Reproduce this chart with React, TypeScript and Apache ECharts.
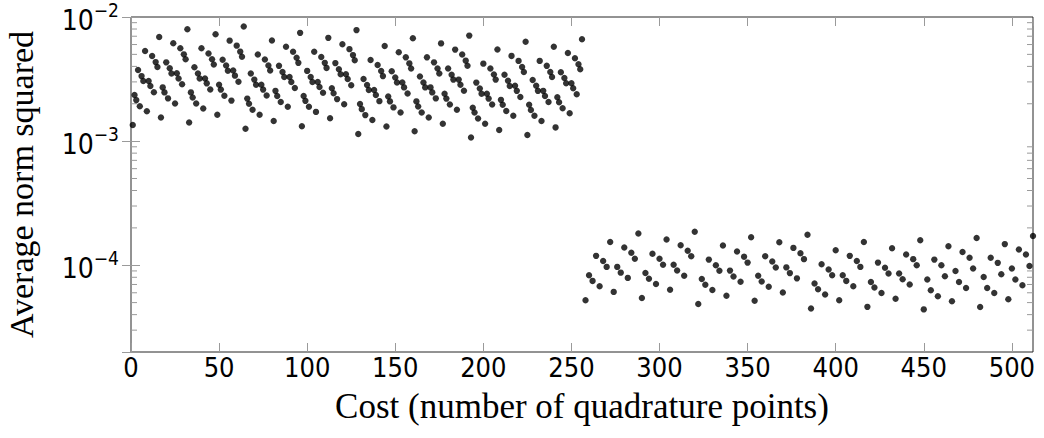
import React, { useEffect, useRef } from "react";
import * as echarts from "echarts";

// Costs: upper group at every cost 1..256, lower group at every even cost 258..512
const upperCostStart = 1;
const upperCostStep = 1;
const lowerCostStart = 258;
const lowerCostStep = 2;

// Average norm squared, costs 1..64
const upperCost1to64 = [
  1.35e-3, 2.35e-3, 2.14e-3, 3.74e-3, 1.91e-3, 3.34e-3, 3.05e-3, 5.32e-3, 1.74e-3, 3.05e-3, 2.78e-3, 4.85e-3, 2.48e-3, 4.33e-3, 3.95e-3, 6.9e-3,
  1.55e-3, 2.71e-3, 2.47e-3, 4.31e-3, 2.21e-3, 3.86e-3, 3.51e-3, 6.14e-3, 2.01e-3, 3.52e-3, 3.2e-3, 5.59e-3, 2.87e-3, 5.0e-3, 4.56e-3, 7.96e-3,
  1.41e-3, 2.47e-3, 2.25e-3, 3.93e-3, 2.01e-3, 3.51e-3, 3.2e-3, 5.59e-3, 1.83e-3, 3.2e-3, 2.92e-3, 5.09e-3, 2.61e-3, 4.56e-3, 4.15e-3, 7.25e-3,
  1.63e-3, 2.85e-3, 2.6e-3, 4.53e-3, 2.32e-3, 4.06e-3, 3.69e-3, 6.45e-3, 2.12e-3, 3.7e-3, 3.37e-3, 5.88e-3, 3.01e-3, 5.26e-3, 4.79e-3, 8.37e-3,
];
// costs 65..128
const upperCost65to128 = [
  1.26e-3, 2.2e-3, 2.0e-3, 3.5e-3, 1.79e-3, 3.13e-3, 2.85e-3, 4.98e-3, 1.63e-3, 2.85e-3, 2.6e-3, 4.54e-3, 2.33e-3, 4.06e-3, 3.7e-3, 6.46e-3,
  1.45e-3, 2.54e-3, 2.31e-3, 4.04e-3, 2.07e-3, 3.61e-3, 3.29e-3, 5.75e-3, 1.89e-3, 3.29e-3, 3.0e-3, 5.24e-3, 2.68e-3, 4.69e-3, 4.27e-3, 7.45e-3,
  1.32e-3, 2.31e-3, 2.11e-3, 3.68e-3, 1.89e-3, 3.29e-3, 3.0e-3, 5.24e-3, 1.72e-3, 3.0e-3, 2.73e-3, 4.77e-3, 2.45e-3, 4.27e-3, 3.89e-3, 6.79e-3,
  1.53e-3, 2.67e-3, 2.43e-3, 4.25e-3, 2.18e-3, 3.8e-3, 3.46e-3, 6.04e-3, 1.98e-3, 3.46e-3, 3.16e-3, 5.51e-3, 2.82e-3, 4.93e-3, 4.49e-3, 7.84e-3,
];
// costs 129..192
const upperCost129to192 = [
  1.14e-3, 1.99e-3, 1.81e-3, 3.16e-3, 1.62e-3, 2.83e-3, 2.58e-3, 4.5e-3, 1.48e-3, 2.58e-3, 2.35e-3, 4.1e-3, 2.1e-3, 3.67e-3, 3.34e-3, 5.83e-3,
  1.31e-3, 2.29e-3, 2.09e-3, 3.65e-3, 1.87e-3, 3.26e-3, 2.97e-3, 5.19e-3, 1.7e-3, 2.97e-3, 2.71e-3, 4.73e-3, 2.42e-3, 4.23e-3, 3.85e-3, 6.73e-3,
  1.2e-3, 2.09e-3, 1.9e-3, 3.32e-3, 1.7e-3, 2.97e-3, 2.71e-3, 4.73e-3, 1.55e-3, 2.71e-3, 2.47e-3, 4.31e-3, 2.21e-3, 3.85e-3, 3.51e-3, 6.13e-3,
  1.38e-3, 2.41e-3, 2.2e-3, 3.84e-3, 1.97e-3, 3.43e-3, 3.13e-3, 5.46e-3, 1.79e-3, 3.13e-3, 2.85e-3, 4.98e-3, 2.55e-3, 4.45e-3, 4.05e-3, 7.08e-3,
];
// costs 193..256
const upperCost193to256 = [
  1.07e-3, 1.86e-3, 1.7e-3, 2.96e-3, 1.52e-3, 2.65e-3, 2.41e-3, 4.21e-3, 1.38e-3, 2.41e-3, 2.2e-3, 3.84e-3, 1.97e-3, 3.44e-3, 3.13e-3, 5.47e-3,
  1.23e-3, 2.15e-3, 1.96e-3, 3.42e-3, 1.75e-3, 3.06e-3, 2.78e-3, 4.86e-3, 1.6e-3, 2.79e-3, 2.54e-3, 4.43e-3, 2.27e-3, 3.96e-3, 3.61e-3, 6.31e-3,
  1.12e-3, 1.96e-3, 1.78e-3, 3.11e-3, 1.6e-3, 2.79e-3, 2.54e-3, 4.43e-3, 1.45e-3, 2.54e-3, 2.31e-3, 4.04e-3, 2.07e-3, 3.61e-3, 3.29e-3, 5.75e-3,
  1.29e-3, 2.26e-3, 2.06e-3, 3.59e-3, 1.84e-3, 3.22e-3, 2.93e-3, 5.12e-3, 1.68e-3, 2.93e-3, 2.67e-3, 4.66e-3, 2.39e-3, 4.17e-3, 3.8e-3, 6.63e-3,
];
// costs 258, 260, ..., 384
const lowerCost258to384 = [
  5.22e-5, 8.31e-5, 7.48e-5, 11.9e-5, 6.78e-5, 10.8e-5, 9.7e-5, 15.4e-5, 6.1e-5, 9.7e-5, 8.72e-5, 13.9e-5, 7.91e-5, 12.6e-5, 11.3e-5, 18.0e-5,
  5.44e-5, 8.65e-5, 7.79e-5, 12.4e-5, 7.06e-5, 11.3e-5, 10.1e-5, 16.1e-5, 6.35e-5, 10.1e-5, 9.08e-5, 14.5e-5, 8.24e-5, 13.1e-5, 11.8e-5, 18.6e-5,
  4.87e-5, 7.75e-5, 6.97e-5, 11.1e-5, 6.31e-5, 10.0e-5, 9.04e-5, 14.4e-5, 5.68e-5, 9.05e-5, 8.13e-5, 12.9e-5, 7.37e-5, 11.7e-5, 10.5e-5, 16.8e-5,
  5.18e-5, 8.23e-5, 7.41e-5, 11.8e-5, 6.71e-5, 10.7e-5, 9.6e-5, 15.3e-5, 6.04e-5, 9.61e-5, 8.64e-5, 13.8e-5, 7.84e-5, 12.5e-5, 11.2e-5, 17.6e-5,
];
// costs 386, 388, ..., 512
const lowerCost386to512 = [
  4.48e-5, 7.12e-5, 6.41e-5, 10.2e-5, 5.81e-5, 9.24e-5, 8.31e-5, 13.2e-5, 5.22e-5, 8.31e-5, 7.48e-5, 11.9e-5, 6.78e-5, 10.8e-5, 9.7e-5, 15.4e-5,
  4.62e-5, 7.34e-5, 6.61e-5, 10.5e-5, 5.98e-5, 9.53e-5, 8.57e-5, 13.7e-5, 5.38e-5, 8.57e-5, 7.71e-5, 12.2e-5, 6.99e-5, 11.2e-5, 10.0e-5, 15.9e-5,
  4.41e-5, 7.67e-5, 6.28e-5, 11.1e-5, 5.62e-5, 10.0e-5, 8.15e-5, 14.2e-5, 5.13e-5, 9.0e-5, 7.33e-5, 12.8e-5, 6.56e-5, 11.5e-5, 9.42e-5, 16.6e-5,
  4.61e-5, 8.05e-5, 6.56e-5, 11.5e-5, 5.98e-5, 10.45e-5, 8.45e-5, 14.8e-5, 5.32e-5, 9.4e-5, 7.67e-5, 13.4e-5, 6.9e-5, 12.2e-5, 9.86e-5, 17.2e-5,
];

const xMin = 0;
const xMax = 512;
const xTickInterval = 50;
const yMin = 2e-5;
const yMax = 1e-2;
const minorDecades = [-5, -4, -3];
const minorMultipliers = [2, 3, 4, 5, 6, 7, 8, 9];

const X_TITLE = "Cost (number of quadrature points)";
const Y_TITLE = "Average norm squared";

const FONT_SANS = '"DejaVu Sans Condensed", "Liberation Sans Narrow", "Liberation Sans", sans-serif';
const FONT_SERIF = '"Liberation Serif", "DejaVu Serif", serif';
const TICK_COLOR = "#9a9a9a";
const FRAME_COLOR = "#262626";

export default function App() {
  const ref = useRef<HTMLDivElement>(null);

  useEffect(() => {
    if (!ref.current) return;
    const chart = echarts.init(ref.current, undefined, { renderer: "svg" });

    const upperValues = [...upperCost1to64, ...upperCost65to128, ...upperCost129to192, ...upperCost193to256];
    const lowerValues = [...lowerCost258to384, ...lowerCost386to512];
    const points = [
      ...upperValues.map((v, i) => [upperCostStart + upperCostStep * i, v]),
      ...lowerValues.map((v, i) => [lowerCostStart + lowerCostStep * i, v]),
    ];

    const yLabel = (v: number) => {
      const e = Math.log10(v);
      const r = Math.round(e);
      if (Math.abs(e - r) > 1e-6) return "";
      return `{b|10}{s|\u2212${-r}}`;
    };

    const tickCommon = {
      show: true,
      inside: true,
      length: 9,
      lineStyle: { color: TICK_COLOR, width: 1 },
    };

    chart.setOption({
      animation: false,
      grid: {
        left: 131,
        right: 11,
        top: 17,
        bottom: 86,
        show: true,
        borderColor: FRAME_COLOR,
        borderWidth: 1,
        backgroundColor: "transparent",
        containLabel: false,
        outerBoundsMode: "none",
      },
      xAxis: [
        {
          type: "value",
          min: xMin,
          max: xMax,
          interval: xTickInterval,
          position: "bottom",
          axisLine: { show: false },
          axisTick: tickCommon,
          axisLabel: {
            margin: 2,
            fontSize: 27,
            fontFamily: FONT_SANS,
            color: "#000",
            showMaxLabel: false,
          },
          splitLine: { show: false },
          name: X_TITLE,
          nameLocation: "middle",
          nameGap: 37,
          nameTextStyle: { fontFamily: FONT_SERIF, fontSize: 35, color: "#000" },
        },
        {
          type: "value",
          min: xMin,
          max: xMax,
          interval: xTickInterval,
          position: "top",
          axisLine: { show: false },
          axisTick: tickCommon,
          axisLabel: { show: false },
          splitLine: { show: false },
        },
      ],
      yAxis: [
        {
          type: "log",
          logBase: 10,
          min: yMin,
          max: yMax,
          position: "left",
          axisLine: { show: false },
          axisTick: tickCommon,
          splitLine: { show: false },
          axisLabel: {
            margin: 12,
            formatter: yLabel,
            color: "#000",
            rich: {
              b: { fontSize: 28, fontFamily: FONT_SANS, color: "#000", lineHeight: 34, verticalAlign: "bottom" },
              s: { fontSize: 19, fontFamily: FONT_SANS, color: "#000", lineHeight: 20, verticalAlign: "top" },
            },
          },
          name: Y_TITLE,
          nameLocation: "middle",
          nameGap: 93,
          nameTextStyle: { fontFamily: FONT_SERIF, fontSize: 34, color: "#000" },
        },
        {
          type: "log",
          logBase: 10,
          min: yMin,
          max: yMax,
          position: "right",
          axisLine: { show: false },
          axisTick: tickCommon,
          splitLine: { show: false },
          axisLabel: { show: false },
        },
      ],
      series: [
        {
          type: "scatter",
          xAxisIndex: 0,
          yAxisIndex: 0,
          data: points,
          symbol: "circle",
          symbolSize: 6.4,
          itemStyle: { color: "#000" },
          silent: true,
        },
      ],
    });

    const xl = chart.convertToPixel({ xAxisIndex: 0 }, xMin) as number;
    const xr = chart.convertToPixel({ xAxisIndex: 0 }, xMax) as number;
    const minor: any[] = [];
    minorDecades.forEach((d) => {
      minorMultipliers.forEach((m) => {
        const v = m * Math.pow(10, d);
        if (v <= yMin * 1.0001 || v >= yMax) return;
        const y = chart.convertToPixel({ yAxisIndex: 0 }, v) as number;
        minor.push({
          type: "line",
          silent: true,
          shape: { x1: xl, y1: y, x2: xl + 6, y2: y },
          style: { stroke: TICK_COLOR, lineWidth: 1 },
        });
        minor.push({
          type: "line",
          silent: true,
          shape: { x1: xr, y1: y, x2: xr - 6, y2: y },
          style: { stroke: TICK_COLOR, lineWidth: 1 },
        });
      });
    });
    chart.setOption({ graphic: minor });

    return () => chart.dispose();
  }, []);

  return (
    <div
      ref={ref}
      style={{ position: "absolute", left: 0, top: 0, width: 1044, height: 438 }}
    />
  );
}
